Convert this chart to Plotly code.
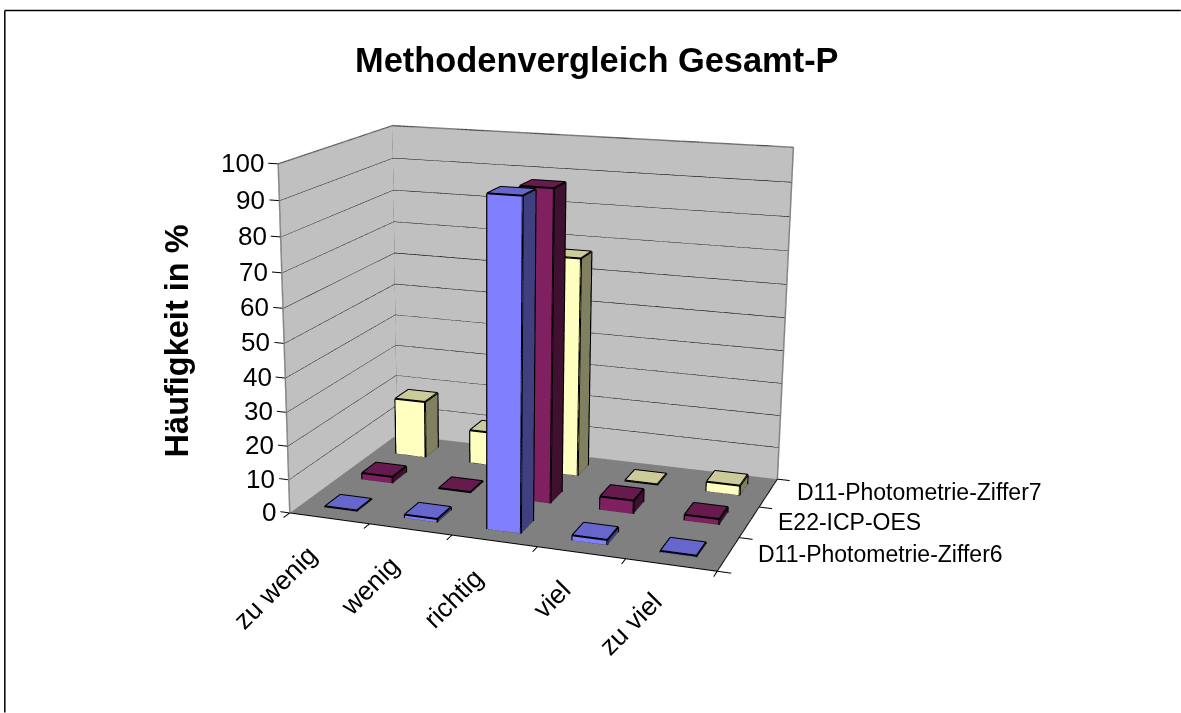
import plotly.graph_objects as go

categories = ["zu wenig", "wenig", "richtig", "viel", "zu viel"]
series_names = ["D11-Photometrie-Ziffer6", "E22-ICP-OES", "D11-Photometrie-Ziffer7"]
ziffer6 = [0.3, 1.0, 94.3, 1.5, 0.4]
icp_oes = [2.0, 0.3, 92.0, 4.0, 1.7]
ziffer7 = [18.0, 10.5, 67.0, 0.3, 3.0]
values = [ziffer6, icp_oes, ziffer7]
z_ticks = list(range(0, 101, 10))
front_colors = ["#8080FF", "#802060", "#FFFFC0"]
top_colors = ["#6666CC", "#661A4D", "#CCCC9A"]
side_colors = ["#404080", "#401030", "#808060"]

X_RANGE = [-0.2, 5.2]
Y_RANGE = [-0.2, 3.2]
Z_RANGE = [0, 100]

# The chart has a long lens, so the figure is larger than the window
# and the page is shifted to bring the scene into place.
FW, FH = 2508, 1475
LEFT, TOP = 765.8, 353.6


def px(x):
    return (x + LEFT) / FW


def py(y):
    return 1 - (y + TOP) / FH


BAR_W = 0.4
BAR_D = 0.4
FLAT = dict(ambient=1, diffuse=0, specular=0, fresnel=0)
FONT = "Liberation Sans"

fig = go.Figure()

# walls and floor
fig.add_trace(go.Mesh3d(
    x=[0, 0, 0, 0, 5, 5], y=[0, 3, 3, 0, 3, 3], z=[0, 0, 100, 100, 0, 100],
    i=[0, 0, 1, 1], j=[1, 2, 4, 5], k=[2, 3, 5, 2],
    color="#C0C0C0", flatshading=True, lighting=FLAT, hoverinfo="skip",
))
fig.add_trace(go.Mesh3d(
    x=[0, 5, 5, 0], y=[0, 0, 3, 3], z=[0, 0, 0, 0],
    i=[0, 0], j=[1, 2], k=[2, 3],
    color="#808080", flatshading=True, lighting=FLAT, hoverinfo="skip",
))

# gridlines
gx, gy, gz = [], [], []
for t in z_ticks[1:]:
    gx += [0, 0, 5, None]
    gy += [0, 3, 3, None]
    gz += [t, t, t, None]
fig.add_trace(go.Scatter3d(x=gx, y=gy, z=gz, mode="lines",
                           line=dict(color="black", width=1.5), hoverinfo="skip"))

# wall outline
fig.add_trace(go.Scatter3d(
    x=[0, 0, 0, 5, 5, None, 0, 0], y=[0, 0, 3, 3, 3, None, 3, 3], z=[0, 100, 100, 100, 0, None, 0, 100],
    mode="lines", line=dict(color="#808080", width=3), hoverinfo="skip"))

# axis lines and tick marks
ax, ay, az = [0, 5, 5, None], [0, 0, 3, None], [0, 0, 0, None]
for i in range(6):
    ax += [i, i, None]
    ay += [0, -0.15, None]
    az += [0, 0, None]
for j in range(4):
    ax += [5, 5.15, None]
    ay += [j, j, None]
    az += [0, 0, None]
for t in z_ticks:
    ax += [0, -0.12, None]
    ay += [0, 0, None]
    az += [t, t, None]
fig.add_trace(go.Scatter3d(x=ax, y=ay, z=az, mode="lines",
                           line=dict(color="black", width=2), hoverinfo="skip"))

# bars
for s_idx, series in enumerate(values):
    vx, vy, vz, ii, jj, kk, fc = [], [], [], [], [], [], []
    ex, ey, ez = [], [], []
    for c_idx, v in enumerate(series):
        x0, x1 = c_idx + 0.5 - BAR_W / 2, c_idx + 0.5 + BAR_W / 2
        y0, y1 = s_idx + 0.5 - BAR_D / 2, s_idx + 0.5 + BAR_D / 2
        n = len(vx)
        vx += [x0, x1, x1, x0, x0, x1, x1, x0]
        vy += [y0, y0, y1, y1, y0, y0, y1, y1]
        vz += [0, 0, 0, 0, v, v, v, v]
        faces = [(0, 1, 5, 4, front_colors[s_idx]),
                 (1, 2, 6, 5, side_colors[s_idx]),
                 (4, 5, 6, 7, top_colors[s_idx])]
        for a, b, c, d, col in faces:
            ii += [n + a, n + a]
            jj += [n + b, n + c]
            kk += [n + c, n + d]
            fc += [col, col]
        ex += [x0, x1, x1, x0, x0, None, x0, x0, x1, x1, x0, None, x1, x1, x1, None]
        ey += [y0, y0, y1, y1, y0, None, y0, y0, y0, y0, y0, None, y0, y1, y1, None]
        ez += [v, v, v, v, v, None, v, 0, 0, v, v, None, 0, 0, v, None]
    fig.add_trace(go.Mesh3d(x=vx, y=vy, z=vz, i=ii, j=jj, k=kk, facecolor=fc, flatshading=True,
                            lighting=FLAT, hoverinfo="skip"))
    fig.add_trace(go.Scatter3d(x=ex, y=ey, z=ez, mode="lines",
                               line=dict(color="black", width=4), hoverinfo="skip"))

# axis labels
scene_notes = []
for t in z_ticks:
    scene_notes.append(dict(x=-0.12, y=0, z=t, text=str(t), showarrow=False, xanchor="right", yanchor="middle",
                            xshift=-2, font=dict(size=26, color="black", family=FONT)))
for i, c in enumerate(categories):
    scene_notes.append(dict(x=i + 0.5, y=-0.15, z=0, text=c, showarrow=False, xanchor="right", yanchor="top",
                            textangle=-45, xshift=3, yshift=-14, font=dict(size=26.5, color="black", family=FONT)))
for j, n in enumerate(series_names):
    scene_notes.append(dict(x=5.15, y=j + 0.5, z=0, text=n, showarrow=False, xanchor="left", yanchor="middle",
                            xshift=14, yshift=2, font=dict(size=23, color="black", family=FONT)))

fig.add_annotation(text="<b>Häufigkeit in %</b>", x=px(177), y=py(341), xref="paper", yref="paper", showarrow=False,
                   textangle=-90, font=dict(size=32.5, color="black", family=FONT))
fig.add_shape(type="line", xref="paper", yref="paper", x0=px(5), x1=px(5), y0=py(713), y1=py(11),
              line=dict(color="black", width=1.5))
fig.add_shape(type="line", xref="paper", yref="paper", x0=px(5), x1=px(1181), y0=py(11), y1=py(11),
              line=dict(color="black", width=1.5))

hidden = dict(visible=False)
fig.update_layout(
    width=FW, height=FH, margin=dict(l=0, r=0, t=0, b=0), showlegend=False, paper_bgcolor="white",
    title=dict(text="<b>Methodenvergleich Gesamt-P</b>", x=px(597), xanchor="center", y=py(60), yanchor="middle",
               font=dict(size=34.4, color="black", family=FONT)),
    scene=dict(
        domain=dict(x=[0, 1], y=[0, 1]),
        xaxis=dict(range=X_RANGE, **hidden), yaxis=dict(range=Y_RANGE, **hidden), zaxis=dict(range=Z_RANGE, **hidden),
        aspectmode="manual", aspectratio=dict(x=1.3417, y=0.8760, z=1.0),
        camera=dict(eye=dict(x=1.5733, y=-4.6522, z=1.2794), center=dict(x=-0.1292, y=-0.0897, z=-0.1468),
                    up=dict(x=0.0036, y=-0.0001, z=1)),
        annotations=scene_notes,
    ),
)
page_css = ("document.documentElement.style.overflow='hidden';document.body.style.overflow='hidden';"
            f"document.body.style.margin='{-TOP:.0f}px 0 0 {-LEFT:.0f}px';")
fig.write_html("out.html", post_script=page_css)
